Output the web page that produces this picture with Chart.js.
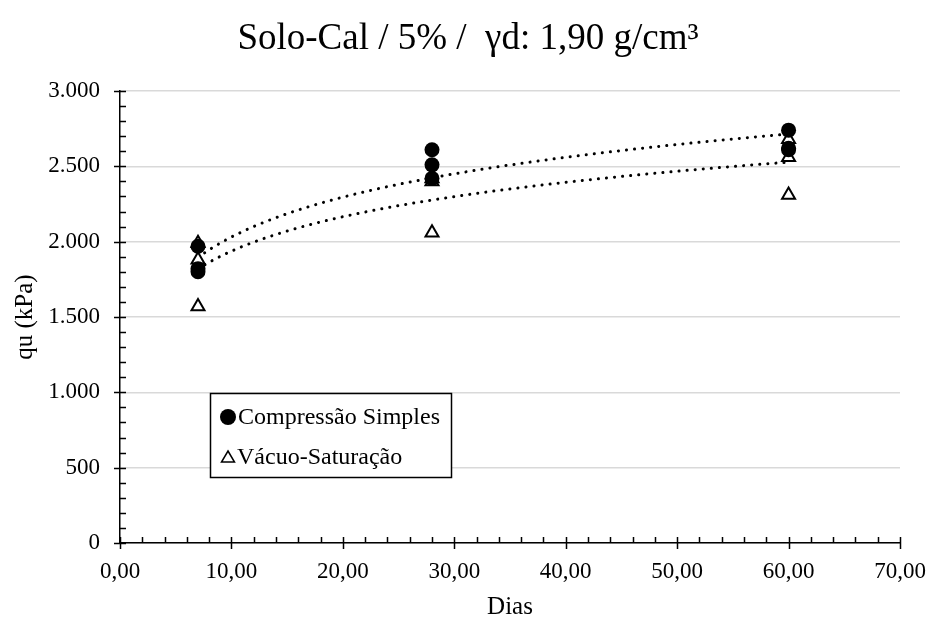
<!DOCTYPE html>
<html>
<head>
<meta charset="utf-8">
<script src="https://cdn.jsdelivr.net/npm/chart.js@4/dist/chart.umd.min.js"></script>
<style>
  body { margin: 0; background: #fff; }
  canvas { display: block; }
</style>
</head>
<body>
<canvas id="quChart" width="930" height="621"></canvas>
<script>
// ===== Dados: resistência à compressão (qu) x dias de cura =====
const titulo = "Solo-Cal / 5% /  γd: 1,90 g/cm³";
const diasCS = [7, 7, 7, 28, 28, 28, 60, 60, 60];
const quCS = [1970, 1820, 1800, 2610, 2510, 2420, 2740, 2620, 2610];
const diasVS = [7, 7, 7, 28, 28, 28, 60, 60, 60];
const quVS = [1990, 1880, 1570, 2400, 2060, 2420, 2560, 2310, 2680];
const xTicks = [0, 10, 20, 30, 40, 50, 60, 70];
const yTicks = [0, 500, 1000, 1500, 2000, 2500, 3000];

const FONTE = "'Liberation Serif', 'Times New Roman', serif";

// linha de tendência logarítmica (mínimos quadrados em ln x)
function ajusteLog(xs, ys) {
  const lx = xs.map(Math.log);
  const n = lx.length;
  const mx = lx.reduce((s, v) => s + v, 0) / n;
  const my = ys.reduce((s, v) => s + v, 0) / n;
  let sxy = 0, sxx = 0;
  for (let i = 0; i < n; i++) {
    sxy += (lx[i] - mx) * (ys[i] - my);
    sxx += (lx[i] - mx) ** 2;
  }
  const a = sxy / sxx;
  const b = my - a * mx;
  const pts = [];
  const x0 = Math.min(...xs), x1 = Math.max(...xs);
  for (let x = x0; x <= x1 + 1e-9; x += 0.5) pts.push({ x, y: a * Math.log(x) + b });
  return pts;
}

const pontos = (xs, ys) => xs.map((x, i) => ({ x, y: ys[i] }));

const fmtY = (v) =>
  v >= 1000 ? Math.floor(v / 1000) + "." + String(v % 1000).padStart(3, "0") : String(v);
const fmtX = (v) => v.toFixed(2).replace(".", ",");

// título, eixos com marcas menores e legenda
const extras = {
  id: "extras",
  afterDraw(chart) {
    const { ctx, chartArea: ca, scales } = chart;
    const sx = scales.x, sy = scales.y;
    ctx.save();
    ctx.fillStyle = "#000";
    ctx.strokeStyle = "#000";

    // título
    ctx.font = "37px " + FONTE;
    ctx.textAlign = "center";
    ctx.textBaseline = "middle";
    ctx.fillText(titulo, 468, 39);

    // títulos dos eixos
    ctx.font = "25px " + FONTE;
    ctx.fillText("Dias", (ca.left + ca.right) / 2, 607);
    ctx.save();
    ctx.translate(25, (ca.top + ca.bottom) / 2);
    ctx.rotate(-Math.PI / 2);
    ctx.fillText("qu (kPa)", 0, 0);
    ctx.restore();

    // marcas do eixo y
    ctx.lineWidth = 1.5;
    ctx.beginPath();
    for (let v = 0; v <= 3000; v += 100) {
      const y = Math.round(sy.getPixelForValue(v)) + 0.5;
      const maior = v % 500 === 0;
      ctx.moveTo(ca.left - (maior ? 6 : 0), y);
      ctx.lineTo(ca.left + 6, y);
    }
    // marcas do eixo x
    for (let v = 0; v <= 70; v += 2) {
      const x = Math.round(sx.getPixelForValue(v)) + 0.5;
      const maior = v % 10 === 0;
      ctx.moveTo(x, ca.bottom + (maior ? 6 : 0));
      ctx.lineTo(x, ca.bottom - 6);
    }
    ctx.stroke();

    // legenda
    const lx = 210, ly = 393, lw = 241, lh = 84;
    ctx.fillStyle = "#fff";
    ctx.fillRect(lx, ly, lw, lh);
    ctx.lineWidth = 1.5;
    ctx.strokeRect(lx + 0.5, ly + 0.5, lw, lh);

    ctx.fillStyle = "#000";
    ctx.beginPath();
    ctx.arc(228, 417, 8, 0, Math.PI * 2);
    ctx.fill();

    ctx.beginPath();
    ctx.moveTo(228, 451);
    ctx.lineTo(234.5, 462);
    ctx.lineTo(221.5, 462);
    ctx.closePath();
    ctx.lineWidth = 1.5;
    ctx.stroke();

    ctx.font = "24px " + FONTE;
    ctx.textAlign = "left";
    ctx.textBaseline = "middle";
    ctx.fillText("Compressão Simples", 238, 418);
    ctx.fillText("Vácuo-Saturação", 237, 458);
    ctx.restore();
  },
};

// sem folga automática para os rótulos extremos do eixo x
const semFolga = (s) => { s.paddingLeft = 0; s.paddingRight = 0; };

const ctxQu = document.getElementById("quChart");
new Chart(ctxQu, {
  type: "scatter",
  data: {
    datasets: [
      {
        label: "tendência CS",
        data: ajusteLog(diasCS, quCS),
        showLine: true,
        pointRadius: 0,
        borderColor: "#000",
        borderWidth: 3,
        borderCapStyle: "round",
        borderDash: [0.1, 8],
        order: 4,
      },
      {
        label: "tendência VS",
        data: ajusteLog(diasVS, quVS),
        showLine: true,
        pointRadius: 0,
        borderColor: "#000",
        borderWidth: 3,
        borderCapStyle: "round",
        borderDash: [0.1, 8],
        order: 3,
      },
      {
        label: "Vácuo-Saturação",
        data: pontos(diasVS, quVS),
        pointStyle: "triangle",
        pointRadius: 7.5,
        backgroundColor: "#fff",
        borderColor: "#000",
        borderWidth: 2,
        order: 2,
      },
      {
        label: "Compressão Simples",
        data: pontos(diasCS, quCS),
        pointStyle: "circle",
        pointRadius: 7.5,
        backgroundColor: "#000",
        borderColor: "#000",
        borderWidth: 0,
        order: 1,
      },
    ],
  },
  options: {
    responsive: false,
    animation: false,
    layout: { padding: { top: 91, right: 30, left: 0, bottom: 0 } },
    plugins: {
      legend: { display: false },
      title: { display: false },
      tooltip: { enabled: false },
    },
    scales: {
      x: {
        type: "linear",
        min: 0,
        max: 70,
        afterFit: (s) => { s.height = 78; semFolga(s); },
        afterBuildTicks: (s) => { s.ticks = xTicks.map((v) => ({ value: v })); },
        grid: { display: false, drawTicks: false },
        border: { color: "#000", width: 1.5 },
        ticks: {
          padding: 15,
          color: "#000",
          font: { family: FONTE, size: 23 },
          callback: (v) => fmtX(v),
        },
      },
      y: {
        type: "linear",
        min: 0,
        max: 3000,
        afterFit: (s) => { s.width = 120; s.paddingTop = 0; s.paddingBottom = 0; },
        afterBuildTicks: (s) => { s.ticks = yTicks.map((v) => ({ value: v })); },
        grid: { color: "#d9d9d9", lineWidth: 1.5, drawTicks: false },
        border: { color: "#000", width: 1.5 },
        ticks: {
          padding: 20,
          color: "#000",
          font: { family: FONTE, size: 23 },
          callback: (v) => fmtY(v),
        },
      },
    },
  },
  plugins: [extras],
});
</script>
</body>
</html>
